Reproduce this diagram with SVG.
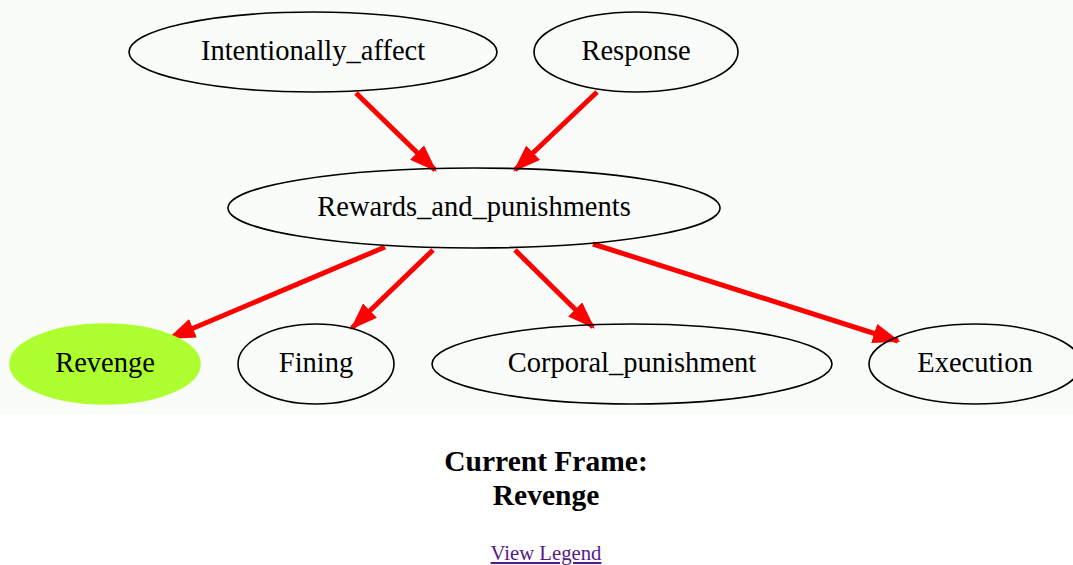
<svg xmlns="http://www.w3.org/2000/svg" width="1073" height="565" viewBox="0 0 1073 565">
<style>
.n ellipse{fill:none;stroke:#000;stroke-width:1.6}
.n text{font-family:"Liberation Serif",serif;font-size:28.5px;text-anchor:middle;fill:#000}
.e line{stroke:#ff0000;stroke-width:5}
.t{font-family:"Liberation Serif",serif;font-weight:bold;font-size:29.5px;text-anchor:middle;fill:#000}
.l{font-family:"Liberation Serif",serif;font-size:20.7px;text-anchor:middle;fill:#551a8b;text-decoration:underline}
</style>
<defs>
<marker id="a" markerWidth="5.5" markerHeight="4" refX="5" refY="2" orient="auto" markerUnits="strokeWidth">
<path d="M0,0 L5.5,2 L0,4 Z" fill="#ff0000"/>
</marker>
</defs>
<rect x="0" y="0" width="1073" height="415" fill="#fafcfa"/>
<g id="edges" class="e">
<line x1="356" y1="93" x2="435" y2="170" marker-end="url(#a)"/>
<line x1="597" y1="92" x2="515" y2="170" marker-end="url(#a)"/>
<line x1="385" y1="247" x2="170" y2="338" marker-end="url(#a)"/>
<line x1="433" y1="250" x2="352" y2="328" marker-end="url(#a)"/>
<line x1="515" y1="250" x2="593" y2="327" marker-end="url(#a)"/>
<line x1="593" y1="244" x2="898" y2="341" marker-end="url(#a)"/>
</g>
<g id="Intentionally_affect" class="n"><ellipse cx="313" cy="52" rx="184" ry="40"/><text x="313" y="60">Intentionally_affect</text></g>
<g id="Response" class="n"><ellipse cx="636" cy="52" rx="102" ry="40"/><text x="636" y="60">Response</text></g>
<g id="Rewards_and_punishments" class="n"><ellipse cx="474" cy="208" rx="246" ry="40"/><text x="474" y="216">Rewards_and_punishments</text></g>
<g id="Revenge" class="n"><ellipse cx="105" cy="364" rx="95" ry="40" style="fill:#adff2f;stroke:#adff2f"/><text x="105" y="372">Revenge</text></g>
<g id="Fining" class="n"><ellipse cx="316" cy="364" rx="78" ry="40"/><text x="316" y="372">Fining</text></g>
<g id="Corporal_punishment" class="n"><ellipse cx="632" cy="364" rx="200" ry="40"/><text x="632" y="372">Corporal_punishment</text></g>
<g id="Execution" class="n"><ellipse cx="975" cy="364" rx="106" ry="40"/><text x="975" y="372">Execution</text></g>
<text class="t" x="546" y="471">Current Frame:</text>
<text class="t" x="546" y="505">Revenge</text>
<text class="l" x="546" y="560">View Legend</text>
</svg>
